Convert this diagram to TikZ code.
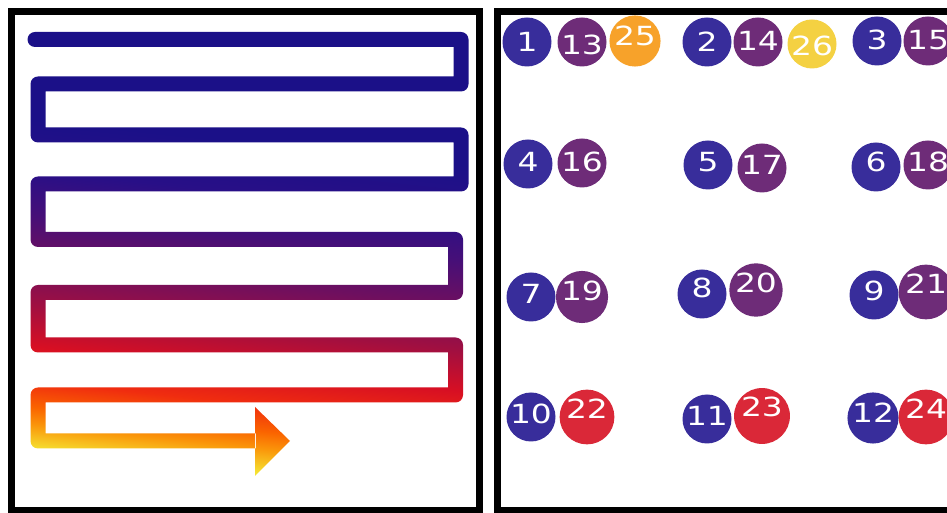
\documentclass[tikz,border=0pt]{standalone}
\usepackage{fontspec}
\newfontfamily\numfont[FakeStretch=1.25]{DejaVu Sans}

\definecolor{ballblue}{RGB}{56,45,155}
\definecolor{ballpurple}{RGB}{110,44,120}
\definecolor{ballorange}{RGB}{247,162,42}
\definecolor{ballyellow}{RGB}{244,209,66}
\definecolor{ballred}{RGB}{218,40,56}
\definecolor{snakeA}{RGB}{245,228,50}
\definecolor{snakeB}{RGB}{250,150,10}
\definecolor{snakeC}{RGB}{250,100,0}
\definecolor{snakeD}{RGB}{240,45,15}
\definecolor{snakeE}{RGB}{215,15,35}
\definecolor{snakeF}{RGB}{160,15,65}
\definecolor{snakeG}{RGB}{110,15,95}
\definecolor{snakeH}{RGB}{70,15,120}
\definecolor{snakeI}{RGB}{40,15,135}
\definecolor{snakeJ}{RGB}{27,16,136}

\pgfdeclareverticalshading{snakeshade}{100bp}{color(0bp)=(snakeA); color(32.4bp)=(snakeA);
  color(34.4bp)=(snakeB); color(35.8bp)=(snakeC); color(37.9bp)=(snakeD);
  color(40.7bp)=(snakeE); color(44bp)=(snakeF); color(47.6bp)=(snakeG);
  color(51.2bp)=(snakeH); color(54.8bp)=(snakeI); color(58.9bp)=(snakeJ);
  color(100bp)=(snakeJ)}

\begin{document}
\begin{tikzpicture}[x=0.02cm, y=0.02cm,
  panel/.style={draw=black, line width=0.14cm},
  ball/.style={circle, fill=#1, minimum size=0.98cm, inner sep=0pt, text=white,
    font=\numfont\fontsize{15}{15}\selectfont, text height=10.9pt}
]
  \path[use as bounding box, fill=white] (0,0) rectangle (947,513);

  % serpentine path, shaded through a clip
  \begin{scope}
    \clip (35,481) rectangle (461,466)
          (453.5,473.5) rectangle (468.5,429)
          (38,436.5) rectangle (461,421.5)
          (30.5,429) rectangle (45.5,378)
          (38,385.5) rectangle (461,370.5)
          (453.5,378) rectangle (468.5,329)
          (38,336.5) rectangle (461,321.5)
          (30.5,329) rectangle (45.5,273.5)
          (38,281) rectangle (455.5,266)
          (448,273.5) rectangle (463,220.5)
          (38,228) rectangle (455.5,213)
          (30.5,220.5) rectangle (45.5,168)
          (38,175.5) rectangle (455.5,160.5)
          (448,168) rectangle (463,118)
          (38,125.5) rectangle (455.5,110.5)
          (30.5,118) rectangle (45.5,72)
          (38,79.5) rectangle (256,64.5)
          (255,106) -- (290,72) -- (255,37) -- cycle
          foreach \x/\y in {35/473.5, 461/473.5, 461/429, 38/429, 38/378, 461/378,
                           461/329, 38/329, 38/273.5, 455.5/273.5, 455.5/220.5, 38/220.5,
                           38/168, 455.5/168, 455.5/118, 38/118, 38/72}
            {(\x,\y) circle[radius=7.5]};
    \shade[shading=snakeshade, transform canvas={rotate around={-6:(250,260)}}]
      (-150,-50) rectangle (650,570);
  \end{scope}

  \draw[panel] (11.7,2.5) rectangle (479.5,501.3);
  \draw[panel] (1000,501.3) -| (497.5,2.5) -- (1000,2.5);

  \node[ball=ballblue] (n1) at (527,471) {1};
  \node[ball=ballpurple, text height=14.3pt] (n13) at (582,471) {13};
  \node[ball=ballorange, text depth=5.7pt] (n25) at (635,472) {25};
  \node[ball=ballblue] (n2) at (707,471) {2};
  \node[ball=ballpurple, text depth=1.1pt] (n14) at (758,471) {14};
  \node[ball=ballyellow, text height=13.2pt] (n26) at (812,469) {26};
  \node[ball=ballblue, text depth=1.1pt] (n3) at (877,472) {3};
  \node[ball=ballpurple, text depth=1.1pt] (n15) at (928,472) {15};

  \node[ball=ballblue, text depth=2.3pt] (n4) at (528,349) {4};
  \node[ball=ballpurple, text depth=1.1pt] (n16) at (582,350) {16};
  \node[ball=ballblue, text depth=3.4pt] (n5) at (708,348) {5};
  \node[ball=ballpurple, text depth=3.4pt] (n17) at (762,345) {17};
  \node[ball=ballblue, text depth=5.7pt] (n6) at (876,346) {6};
  \node[ball=ballpurple, text depth=3.4pt] (n18) at (928,348) {18};

  \node[ball=ballblue, text depth=3.4pt] (n7) at (531,216) {7};
  \node[ball=ballpurple, text depth=6.8pt] (n19) at (582,216) {19};
  \node[ball=ballblue, text depth=6.8pt] (n8) at (702,219) {8};
  \node[ball=ballpurple, text depth=7.9pt] (n20) at (756,223) {20};
  \node[ball=ballblue, text depth=4.5pt] (n9) at (874,218) {9};
  \node[ball=ballpurple, text depth=9.1pt] (n21) at (926,221) {21};

  \node[ball=ballblue, text depth=3.4pt] (n10) at (531,96) {10};
  \node[ball=ballred, text depth=9.1pt] (n22) at (587,96) {22};
  \node[ball=ballblue, text depth=3.4pt] (n11) at (707,94) {11};
  \node[ball=ballred, text depth=10.2pt] (n23) at (762,97) {23};
  \node[ball=ballblue, text depth=5.7pt] (n12) at (873,95) {12};
  \node[ball=ballred, text depth=9.1pt] (n24) at (926,96) {24};
\end{tikzpicture}
\end{document}
